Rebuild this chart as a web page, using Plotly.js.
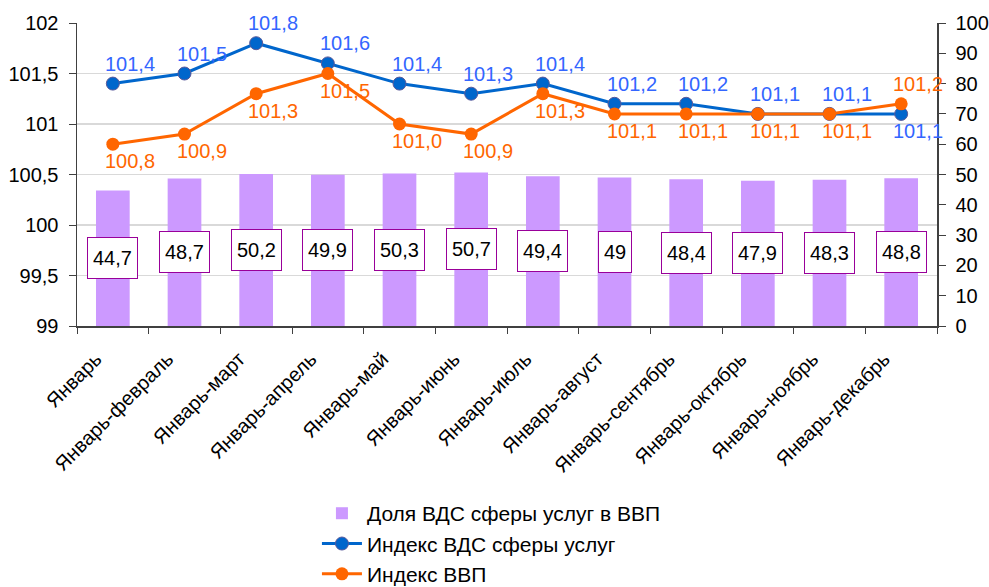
<!DOCTYPE html>
<html>
<head>
<meta charset="utf-8">
<script src="https://cdn.plot.ly/plotly-3.0.1.min.js"></script>
<style>html,body{margin:0;padding:0;background:#fff;}#chart{width:989px;height:587px;}</style>
</head>
<body>
<div id="chart"></div>
<script>
var categories = ['Январь','Январь-февраль','Январь-март','Январь-апрель','Январь-май','Январь-июнь','Январь-июль','Январь-август','Январь-сентябрь','Январь-октябрь','Январь-ноябрь','Январь-декабрь'];
var shareServices = [44.7, 48.7, 50.2, 49.9, 50.3, 50.7, 49.4, 49, 48.4, 47.9, 48.3, 48.8];
var indexServices = [101.4, 101.5, 101.8, 101.6, 101.4, 101.3, 101.4, 101.2, 101.2, 101.1, 101.1, 101.1];
var indexGDP = [100.8, 100.9, 101.3, 101.5, 101.0, 100.9, 101.3, 101.1, 101.1, 101.1, 101.1, 101.2];
var seriesNames = ['Доля ВДС сферы услуг в ВВП', 'Индекс ВДС сферы услуг', 'Индекс ВВП'];

var FONT = 'Arial, "Liberation Sans", sans-serif';
function fmt(v, d) { return v.toFixed(d).replace('.', ','); }
function fmtShare(v) { return (Math.round(v * 10) / 10).toString().replace('.', ','); }

var traces = [
  {type: 'bar', name: seriesNames[0], x: categories, y: shareServices, yaxis: 'y2', legendgroup: 'a',
   marker: {color: '#CC99FF'}, width: 0.47, hoverinfo: 'skip'},
  {type: 'scatter', mode: 'lines+markers', name: seriesNames[1], x: categories, y: indexServices, yaxis: 'y', legendgroup: 'b',
   line: {color: '#0066CC', width: 3}, marker: {color: '#0066CC', size: 13, line: {color: '#5A5A9A', width: 1}}},
  {type: 'scatter', mode: 'lines+markers', name: seriesNames[2], x: categories, y: indexGDP, yaxis: 'y', legendgroup: 'c',
   line: {color: '#FF6600', width: 3}, marker: {color: '#FF6600', size: 13}}
];

var annotations = [];
for (var i = 0; i < categories.length; i++) {
  var blueAbove = indexServices[i] >= indexGDP[i];
  annotations.push({x: categories[i], y: indexServices[i], xref: 'x', yref: 'y', showarrow: false,
    text: fmt(indexServices[i], 1), xshift: 17, yshift: blueAbove ? 20 : -17,
    font: {family: FONT, size: 20, color: '#3366FF'}});
  annotations.push({x: categories[i], y: indexGDP[i], xref: 'x', yref: 'y', showarrow: false,
    text: fmt(indexGDP[i], 1), xshift: 17, yshift: blueAbove ? -17 : 20,
    font: {family: FONT, size: 20, color: '#FF6600'}});
  annotations.push({x: categories[i], y: shareServices[i] / 2, xref: 'x', yref: 'y2', showarrow: false,
    text: fmtShare(shareServices[i]), bgcolor: '#FFFFFF', bordercolor: '#990099', borderwidth: 1,
    borderpad: 5, height: 30, valign: 'middle',
    font: {family: FONT, size: 20, color: '#000000'}});
}

var layout = {
  width: 989, height: 587,
  margin: {l: 77, r: 52, t: 23, b: 261},
  paper_bgcolor: '#FFFFFF', plot_bgcolor: '#FFFFFF',
  font: {family: FONT, size: 20, color: '#000000'},
  separators: ', ',
  showlegend: true,
  bargap: 0.53,
  xaxis: {type: 'category', tickson: 'boundaries', ticks: 'outside', ticklen: 6, tickcolor: '#404040',
    showline: true, linecolor: '#404040', linewidth: 1.5, showgrid: false, tickangle: -45, automargin: false,
    ticklabelstandoff: 12, ticklabelshift: -17,
    tickfont: {family: FONT, size: 20, color: '#000'}, range: [-0.5, 11.5]},
  yaxis: {range: [99, 102], dtick: 0.5, tick0: 99, side: 'left', showline: true, linecolor: '#404040', linewidth: 1.5,
    ticks: 'outside', ticklen: 7, tickcolor: '#404040', showgrid: true, gridcolor: '#D9D9D9', gridwidth: 1.5,
    zeroline: false, automargin: false, ticklabelstandoff: 6, tickfont: {family: FONT, size: 20, color: '#000'}},
  yaxis2: {range: [0, 100], dtick: 10, overlaying: 'y', side: 'right', showline: true, linecolor: '#404040', linewidth: 1.5,
    ticks: 'outside', ticklen: 7, tickcolor: '#404040', showgrid: false, zeroline: false, automargin: false,
    ticklabelstandoff: 6, tickfont: {family: FONT, size: 20, color: '#000'}},
  legend: {orientation: 'v', x: 0.279, xanchor: 'left', yref: 'container', y: 0.16, yanchor: 'top',
    font: {family: FONT, size: 21, color: '#000'}, traceorder: 'grouped', tracegroupgap: 0,
    bgcolor: 'rgba(0,0,0,0)', itemwidth: 40},
  annotations: annotations
};

Plotly.newPlot('chart', traces, layout, {displayModeBar: false, staticPlot: true});
</script>
</body>
</html>
